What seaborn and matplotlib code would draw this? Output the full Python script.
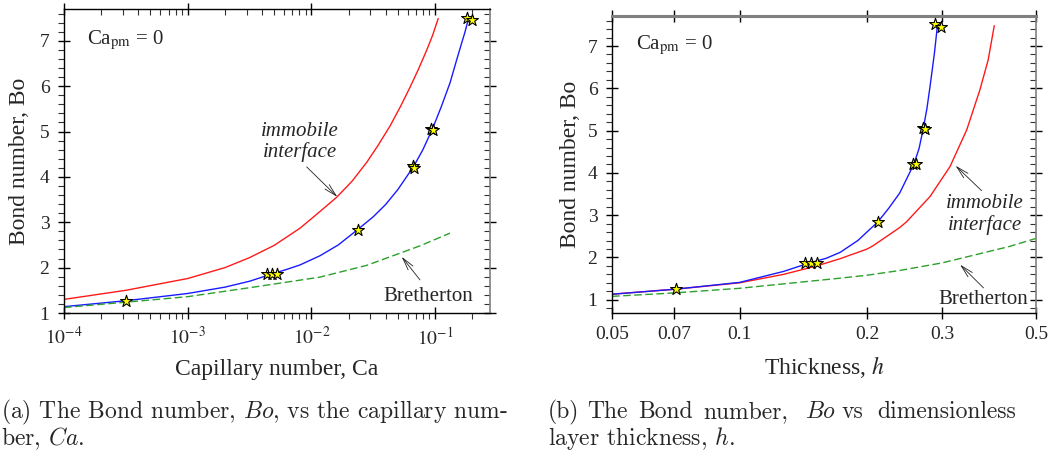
import matplotlib
matplotlib.use("Agg")
import matplotlib.pyplot as plt
import seaborn as sns
from matplotlib.ticker import MultipleLocator, NullLocator, NullFormatter, LogLocator

# ---------------- data ----------------
# (a) Bond number vs capillary number
ca_immobile = [1e-4, 3.16e-4, 1e-3, 2e-3, 3.16e-3, 5e-3, 8.1e-3, 1.12e-2, 1.6e-2, 2.14e-2,
               2.8e-2, 3.47e-2, 4.32e-2, 5.25e-2, 6.26e-2, 7.33e-2, 8.55e-2, 9.55e-2, 0.106]
bo_immobile = [1.30, 1.50, 1.76, 2.00, 2.22, 2.49, 2.87, 3.19, 3.55, 3.91,
               4.32, 4.70, 5.12, 5.55, 5.97, 6.37, 6.79, 7.12, 7.49]

ca_coupled = [1e-4, 3.16e-4, 1e-3, 2e-3, 3.16e-3, 4.8e-3, 6.3e-3, 8.1e-3, 1.17e-2, 1.65e-2,
              2.37e-2, 3.16e-2, 3.98e-2, 5.0e-2, 6.67e-2, 7.94e-2, 9.5e-2, 0.112, 0.132,
              0.151, 0.164, 0.174, 0.186]
bo_coupled = [1.14, 1.27, 1.43, 1.57, 1.70, 1.86, 1.96, 2.06, 2.26, 2.50,
              2.84, 3.12, 3.39, 3.72, 4.22, 4.59, 5.05, 5.54, 6.07,
              6.62, 6.95, 7.18, 7.48]

ca_bretherton = [1e-4, 3.2e-4, 1e-3, 3.4e-3, 1.17e-2, 2.8e-2, 7.55e-2, 0.132]
bo_bretherton = [1.12, 1.24, 1.36, 1.57, 1.79, 2.05, 2.48, 2.76]

ca_stars = [3.2e-4, 4.36e-3, 4.78e-3, 5.3e-3, 2.37e-2, 6.6e-2, 6.8e-2, 9.3e-2, 9.7e-2, 0.180, 0.198]
bo_stars_a = [1.27, 1.87, 1.87, 1.87, 2.84, 4.23, 4.20, 5.06, 5.04, 7.51, 7.45]

# (b) Bond number vs thickness
h_immobile = [0.05, 0.0707, 0.1, 0.127, 0.152, 0.1726, 0.2, 0.2066, 0.238, 0.2474,
              0.2812, 0.3135, 0.3433, 0.3686, 0.3856, 0.3986]
bo_h_immobile = [1.13, 1.25, 1.40, 1.60, 1.80, 1.97, 2.20, 2.28, 2.70, 2.84,
                 3.44, 4.15, 5.02, 5.96, 6.67, 7.48]

h_coupled = [0.05, 0.0707, 0.1, 0.127, 0.145, 0.16, 0.1726, 0.19, 0.2118, 0.225,
             0.2384, 0.2577, 0.265, 0.271, 0.2765, 0.2812, 0.288, 0.2927]
bo_h_coupled = [1.13, 1.25, 1.41, 1.67, 1.86, 1.98, 2.12, 2.40, 2.84, 3.17,
                3.52, 4.21, 4.58, 5.04, 5.52, 6.04, 6.83, 7.48]

h_bretherton = [0.05, 0.07, 0.1, 0.1726, 0.2, 0.238, 0.3, 0.433, 0.5]
bo_h_bretherton = [1.08, 1.16, 1.27, 1.51, 1.58, 1.69, 1.87, 2.26, 2.45]

h_stars = [0.0707, 0.143, 0.147, 0.152, 0.2125, 0.256, 0.260, 0.270, 0.274, 0.289, 0.298]
bo_stars_b = [1.25, 1.87, 1.87, 1.87, 2.83, 4.22, 4.20, 5.05, 5.03, 7.51, 7.46]

# tick labels
ca_ticks = [1e-4, 1e-3, 1e-2, 1e-1]
ca_ticklabels = [r"$10^{-4}$", r"$10^{-3}$", r"$10^{-2}$", r"$10^{-1}$"]
h_ticks = [0.05, 0.07, 0.1, 0.2, 0.3, 0.5]
h_ticklabels = ["0.05", "0.07", "0.1", "0.2", "0.3", "0.5"]
bo_ticks = [1, 2, 3, 4, 5, 6, 7]

# captions
caption_a = ["(a) The Bond number, $Bo$, vs the capillary num-", "ber, $Ca$."]
caption_b_words = ["(b)", "The", "Bond", "number,", "$Bo$", "vs", "dimensionless"]
caption_b_xpix = [548, 587, 638, 703, 805, 842, 877]
caption_b_line2 = "layer thickness, $h$."

# ---------------- style ----------------
sns.set_style("ticks")
plt.rcParams["font.family"] = ["Liberation Serif", "DejaVu Serif"]
plt.rcParams["mathtext.fontset"] = "stix"

W, H = 1049, 455
fig = plt.figure(figsize=(W / 100, H / 100), dpi=100)
ax1 = fig.add_axes([64 / W, 1 - 313 / H, 426 / W, 304 / H])
ax2 = fig.add_axes([612 / W, 1 - 313 / H, 424 / W, 297 / H])

RED, BLUE, GREEN = "#ff1a1a", "#1a1aff", "#2ca02c"
LW = 1.0
DASH = (0, (5.5, 2.5))


def draw(ax, x_imm, y_imm, x_cp, y_cp, x_br, y_br, x_st, y_st):
    sns.lineplot(x=x_imm, y=y_imm, ax=ax, color=RED, lw=LW, sort=False, estimator=None)
    sns.lineplot(x=x_cp, y=y_cp, ax=ax, color=BLUE, lw=LW, sort=False, estimator=None)
    sns.lineplot(x=x_br, y=y_br, ax=ax, color=GREEN, lw=LW, sort=False, estimator=None,
                 linestyle=DASH)
    sns.scatterplot(x=x_st, y=y_st, ax=ax, marker="*", s=80, color="#ffff00",
                    edgecolor="black", linewidth=0.8, zorder=5)


def style(ax, xticks, xlabels, log_minor, top_color, top_lw):
    ax.set_xscale("log")
    ax.set_xticks(xticks)
    ax.set_xticklabels(xlabels)
    ax.set_yticks(bo_ticks)
    ax.yaxis.set_minor_locator(MultipleLocator(0.2))
    if log_minor:
        ax.xaxis.set_minor_locator(LogLocator(base=10, subs=range(2, 10)))
    else:
        ax.xaxis.set_minor_locator(NullLocator())
    ax.xaxis.set_minor_formatter(NullFormatter())
    ax.tick_params(which="both", bottom=True, left=True, top=False, right=False)
    ax.tick_params(which="major", direction="inout", length=9, width=1.0,
                   labelsize=14, color="black")
    ax.tick_params(axis="x", which="major", pad=5)
    ax.tick_params(axis="y", which="major", pad=6)
    ax.tick_params(which="minor", direction="out", length=4, width=0.8, color="#333333")
    for side in ["left", "bottom"]:
        ax.spines[side].set_color("black")
        ax.spines[side].set_linewidth(1.0)
    ax.spines["right"].set_color("#808080")
    ax.spines["right"].set_linewidth(1.2)
    ax.spines["top"].set_color(top_color)
    ax.spines["top"].set_linewidth(top_lw)
    # mirrored ticks: majors crossing, minors inside
    secx = ax.secondary_xaxis("top")
    secx.set_xticks(xticks)
    secx.set_xticklabels([])
    if log_minor:
        secx.xaxis.set_minor_locator(LogLocator(base=10, subs=range(2, 10)))
    else:
        secx.xaxis.set_minor_locator(NullLocator())
    secx.xaxis.set_minor_formatter(NullFormatter())
    secy = ax.secondary_yaxis("right")
    secy.set_yticks(bo_ticks)
    secy.set_yticklabels([])
    secy.yaxis.set_minor_locator(MultipleLocator(0.2))
    secx.tick_params(which="both", top=True, bottom=False)
    secy.tick_params(which="both", right=True, left=False)
    for sec in (secx, secy):
        sec.tick_params(which="major", direction="inout", length=9, width=1.0, color="black")
        sec.tick_params(which="minor", direction="in", length=4, width=0.8, color="#333333")
        for sp in sec.spines.values():
            sp.set_visible(False)


arrow_kw = dict(arrowstyle="->,head_length=0.9,head_width=0.22", lw=0.6, color="#222222",
                shrinkA=0, shrinkB=0)

# ---- panel (a) ----
draw(ax1, ca_immobile, bo_immobile, ca_coupled, bo_coupled, ca_bretherton, bo_bretherton,
     ca_stars, bo_stars_a)
style(ax1, ca_ticks, ca_ticklabels, True, "black", 1.0)
ax1.set_xlim(1e-4, 0.278)
ax1.set_ylim(1, 7.70)
ax1.set_xlabel("Capillary number, Ca", fontsize=17, labelpad=8)
ax1.set_ylabel("Bond number, Bo", fontsize=17, labelpad=7)
ax1.text(0.054, 0.898, r"Ca$_\mathrm{pm}$ = 0", transform=ax1.transAxes, fontsize=15,
         ha="left", va="center")
ax1.text(0.0081, 4.77, "immobile\ninterface", fontsize=15, style="italic",
         ha="center", va="center", linespacing=1.1)
ax1.annotate("", xy=(0.0162, 3.56), xytext=(0.00916, 4.22), arrowprops=arrow_kw)
ax1.text(0.0877, 1.37, "Bretherton", fontsize=15, ha="center", va="center")
ax1.annotate("", xy=(0.0537, 2.24), xytext=(0.0755, 1.73), arrowprops=arrow_kw)

# ---- panel (b) ----
draw(ax2, h_immobile, bo_h_immobile, h_coupled, bo_h_coupled, h_bretherton, bo_h_bretherton,
     h_stars, bo_stars_b)
style(ax2, h_ticks, h_ticklabels, False, "#808080", 2.2)
ax2.set_xlim(0.05, 0.5)
ax2.set_ylim(0.686, 7.71)
ax2.set_xlabel("Thickness, $h$", fontsize=17, labelpad=8)
ax2.set_ylabel("Bond number, Bo", fontsize=17, labelpad=5)
ax2.text(0.057, 0.902, r"Ca$_\mathrm{pm}$ = 0", transform=ax2.transAxes, fontsize=15,
         ha="left", va="center")
ax2.text(0.379, 3.02, "immobile\ninterface", fontsize=15, style="italic",
         ha="center", va="center", linespacing=1.1)
ax2.annotate("", xy=(0.323, 4.17), xytext=(0.372, 3.58), arrowprops=arrow_kw)
ax2.text(0.376, 1.0, "Bretherton", fontsize=15, ha="center", va="center")
ax2.annotate("", xy=(0.331, 1.83), xytext=(0.376, 1.28), arrowprops=arrow_kw)

# ---- captions ----
cap_kw = dict(fontsize=17, family="cmr10", math_fontfamily="cm", va="baseline", ha="left")
fig.text(1 / W, 1 - 418 / H, caption_a[0], **cap_kw)
fig.text(1 / W, 1 - 445 / H, caption_a[1], **cap_kw)
for word, xp in zip(caption_b_words, caption_b_xpix):
    fig.text(xp / W, 1 - 418 / H, word, **cap_kw)
fig.text(548 / W, 1 - 445 / H, caption_b_line2, **cap_kw)

fig.savefig("out.png", dpi=100)
